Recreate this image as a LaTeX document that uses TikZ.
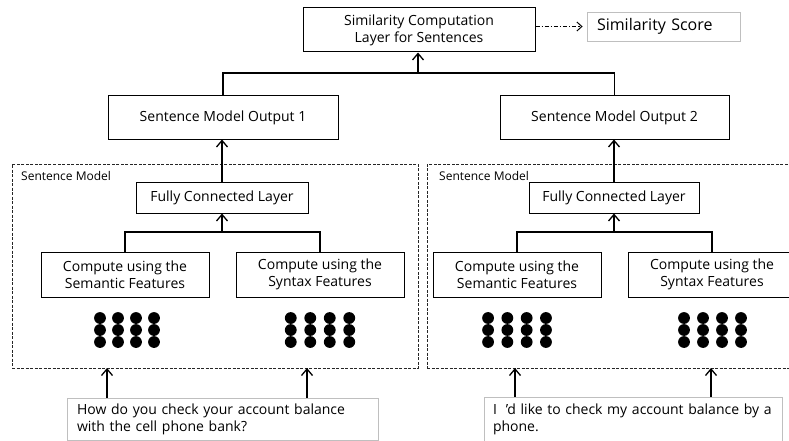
\documentclass[tikz,border=0pt]{standalone}
\usepackage{fontspec}
\setmainfont{Open Sans}
\usetikzlibrary{arrows.meta}
\begin{document}
\begin{tikzpicture}[x=1pt,y=-1pt,
  box/.style={draw=black, line width=1pt, inner sep=0pt, align=center, font=\fontsize{14}{17}\selectfont},
  txtbox/.style={draw=black!25, line width=0.8pt, inner ysep=0pt, inner xsep=10pt, align=left, font=\fontsize{14}{17}\selectfont},
  conn/.style={line width=1.4pt},
  arr/.style={line width=1.4pt, -{Straight Barb[length=6.5pt,width=11pt,line width=1.3pt]}},
  dasharr/.style={line width=0.9pt, dash pattern=on 4pt off 2pt on 1.2pt off 2pt, -{Straight Barb[length=5pt,width=9pt,line width=1pt]}},
  panel/.style={draw=black!85, line width=1pt, dash pattern=on 3pt off 1.5pt, inner sep=0pt},
  lbl/.style={anchor=west, inner sep=0pt, font=\fontsize{12}{14}\selectfont}
]
\useasboundingbox (0,0) rectangle (789,441);
\clip (0,0) rectangle (789,441);

% top
\node[box, minimum width=232pt, minimum height=44pt] (top) at (419,30) {Similarity Computation\\Layer for Sentences};
\node[txtbox, minimum height=29pt, text width=133pt, font=\fontsize{16}{19}\selectfont] (score) at (663.5,26.5) {Similarity Score};

% outputs
\node[box, minimum width=230pt, minimum height=43pt] (out1) at (223,117.5) {Sentence Model Output 1};
\node[box, minimum width=229pt, minimum height=43pt] (out2) at (614.5,117.5) {Sentence Model Output 2};

% panels
\node[panel, minimum width=406pt, minimum height=204pt] (pL) at (215,266) {};
\node[panel, minimum width=373pt, minimum height=204pt] (pR) at (613.5,266) {};
\node[lbl] (lblL) at (21,176) {Sentence Model};
\node[lbl] (lblR) at (439,176) {Sentence Model};

% fully connected
\node[box, minimum width=172pt, minimum height=31pt] (fcl1) at (222,197.5) {Fully Connected Layer};
\node[box, minimum width=170pt, minimum height=31pt] (fcl2) at (614,197.5) {Fully Connected Layer};

% compute boxes
\node[box, minimum width=168pt, minimum height=45pt] (sem1) at (125,274.5) {Compute using the\\Semantic Features};
\node[box, minimum width=168pt, minimum height=45pt] (syn1) at (320,274.5) {Compute using the\\Syntax Features};
\node[box, minimum width=168pt, minimum height=45pt] (sem2) at (517,274.5) {Compute using the\\Semantic Features};
\node[box, minimum width=168pt, minimum height=45pt] (syn2) at (712,274.5) {Compute using the\\Syntax Features};

% dots
\foreach \cx/\sp in {127/18,320/19.5,517/19.3,712.5/19}
  \foreach \i in {-1.5,-0.5,0.5,1.5}
    \foreach \yy in {318,330,342}
      \fill (\cx+\i*\sp,\yy) circle[radius=5.9pt];

% sentences
\node[txtbox, minimum height=42pt, text width=291pt] (s1) at (222.5,419) {How do you check your account balance\\with the cell phone bank?};
\node[txtbox, inner xsep=9pt, minimum height=44pt, text width=280pt] (s2) at (633,419) {I\hspace{9pt}’d like to check my account balance by a\\phone.};

% connectors: top
\coordinate (j) at (418,73);
\draw[conn] (out1.north) -- (out1.north |- j) -- (out2.north |- j) -- (out2.north);
\draw[arr] (j) -- (j |- top.south);
\draw[dasharr, shorten >=4pt] (top.east |- score.west) -- (score.west);

% fcl to outputs
\draw[arr] (fcl1.north) -- (fcl1.north |- out1.south);
\draw[arr] (fcl2.north) -- (fcl2.north |- out2.south);

% compute to fcl
\coordinate (jL) at (222,232);
\coordinate (jR) at (614,232);
\draw[conn] (sem1.north) -- (sem1.north |- jL) -- (syn1.north |- jL) -- (syn1.north);
\draw[arr] (jL) -- (fcl1.south);
\draw[conn] (sem2.north) -- (sem2.north |- jR) -- (syn2.north |- jR) -- (syn2.north);
\draw[arr] (jR) -- (fcl2.south);

% inputs
\coordinate (a1) at (107,368);
\coordinate (a2) at (307,368);
\coordinate (a3) at (515,368);
\coordinate (a4) at (711,368);
\draw[arr] (s1.north -| a1) -- (a1);
\draw[arr] (s1.north -| a2) -- (a2);
\draw[arr] (s2.north -| a3) -- (a3);
\draw[arr] (s2.north -| a4) -- (a4);
\end{tikzpicture}
\end{document}
